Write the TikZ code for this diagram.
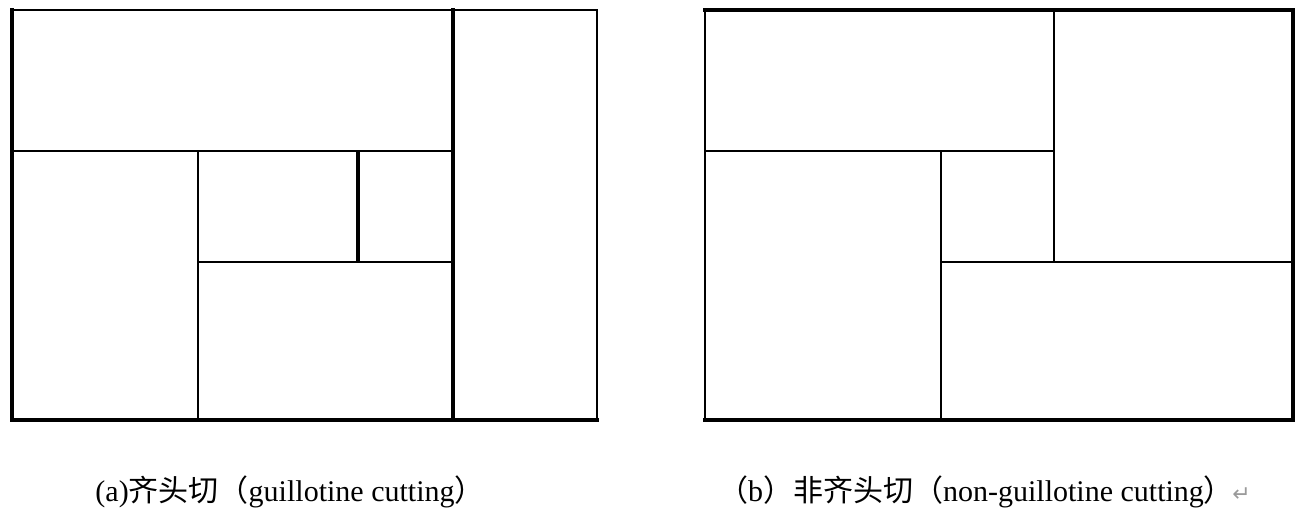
\documentclass[tikz,border=0pt]{standalone}
\usepackage{fontspec}
\setmainfont{Liberation Serif}
\newfontfamily\cjk{Noto Sans CJK SC}
\newfontfamily\marksymbol{DejaVu Sans}
\definecolor{cutInk}{HTML}{000000}
\definecolor{returnMark}{HTML}{9A9A9A}
\tikzset{
  thin cut/.style={draw=cutInk,line width=1.7pt},
  thick cut/.style={draw=cutInk,line width=3.2pt,line cap=rect},
  sheet caption/.style={font=\fontsize{30}{33}\selectfont, anchor=base, inner sep=0pt}
}

\begin{document}
\begin{tikzpicture}[x=1pt,y=-1pt]
\useasboundingbox (0,0) rectangle (1302,512);

% Panel (a): guillotine layout, every cut runs edge to edge.
\draw[thin cut] (12,10) -- (597,10) -- (597,420);
\draw[thick cut] (12,10) -- (12,420) -- (597,420);
\draw[thick cut] (453,10) -- (453,420);
\draw[thin cut] (12,151) -- (453,151);
\draw[thin cut] (198,151) -- (198,420);
\draw[thin cut] (198,262) -- (453,262);
\draw[thick cut, line cap=butt] (358,151) -- (358,262);

\node[sheet caption] (capA) at (290,501)
  {(a){\cjk 齐头切（}guillotine cutting{\cjk ）}};

% Panel (b): non-guillotine layout, pinwheel of four pieces.
\draw[thin cut] (705,10) -- (705,420);
\draw[thick cut] (705,10) -- (1293,10) -- (1293,420) -- (705,420);
\draw[thin cut] (705,151) -- (1054,151);
\draw[thin cut] (1054,10) -- (1054,262);
\draw[thin cut] (941,151) -- (941,420);
\draw[thin cut] (941,262) -- (1293,262);

\node[sheet caption] (capB) at (976,501)
  {{\cjk （}b{\cjk ）非齐头切（}non-guillotine cutting{\cjk ）}};
\node[anchor=base west, inner sep=0pt, font=\marksymbol\fontsize{22}{24}\selectfont,
  text=returnMark] (retB) at ([xshift=-2pt]capB.base east) {↵};

\end{tikzpicture}
\end{document}
